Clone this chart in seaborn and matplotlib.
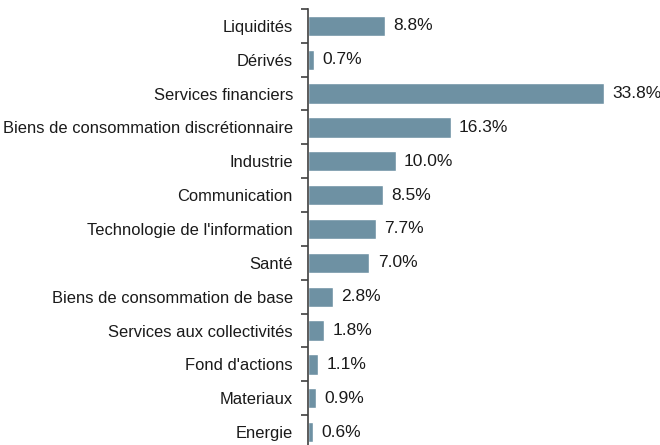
import numpy as np
import pandas as pd
import seaborn as sns
import matplotlib.pyplot as plt
from matplotlib.ticker import FixedLocator

categories = [
    "Liquidités",
    "Dérivés",
    "Services financiers",
    "Biens de consommation discrétionnaire",
    "Industrie",
    "Communication",
    "Technologie de l'information",
    "Santé",
    "Biens de consommation de base",
    "Services aux collectivités",
    "Fond d'actions",
    "Materiaux",
    "Energie",
]
weights = [8.8, 0.7, 33.8, 16.3, 10.0, 8.5, 7.7, 7.0, 2.8, 1.8, 1.1, 0.9, 0.6]
value_labels = ["8.8%", "0.7%", "33.8%", "16.3%", "10.0%", "8.5%", "7.7%",
                "7.0%", "2.8%", "1.8%", "1.1%", "0.9%", "0.6%"]

if __name__ == "__main__":
    df = pd.DataFrame({"Secteur": categories, "Poids": weights})

    sns.set_theme(style="white")
    plt.rcParams["font.family"] = ["Liberation Sans", "DejaVu Sans"]

    fig = plt.figure(figsize=(6.6, 4.45), dpi=100)
    ax = fig.add_axes([0.467, -0.009, 0.498, 0.989])

    sns.barplot(data=df, x="Poids", y="Secteur", orient="h", color="#6E91A3",
                saturation=1, width=0.6, ax=ax)

    # Value labels at the end of each bar
    ax.bar_label(ax.containers[0], labels=value_labels, padding=6,
                 fontsize=12.5, color="#1a1a1a")

    ax.set_xlim(0, 37.6)
    ax.set_ylim(len(categories) - 0.5, -0.5)
    ax.set_xlabel("")
    ax.set_ylabel("")
    ax.set_xticks([])

    # Axis line on the left with small ticks between categories
    sns.despine(ax=ax, left=False, bottom=True, top=True, right=True)
    ax.spines["left"].set_color("#404040")
    ax.spines["left"].set_linewidth(1.2)
    ax.yaxis.set_minor_locator(FixedLocator(np.arange(-0.5, len(categories), 1)))
    ax.tick_params(axis="y", which="major", length=0, pad=11, labelsize=11.9,
                   labelcolor="#1a1a1a")
    ax.tick_params(axis="y", which="minor", left=True, length=5, width=1.2,
                   color="#404040", direction="out")

    plt.savefig("out.png", dpi=100)
